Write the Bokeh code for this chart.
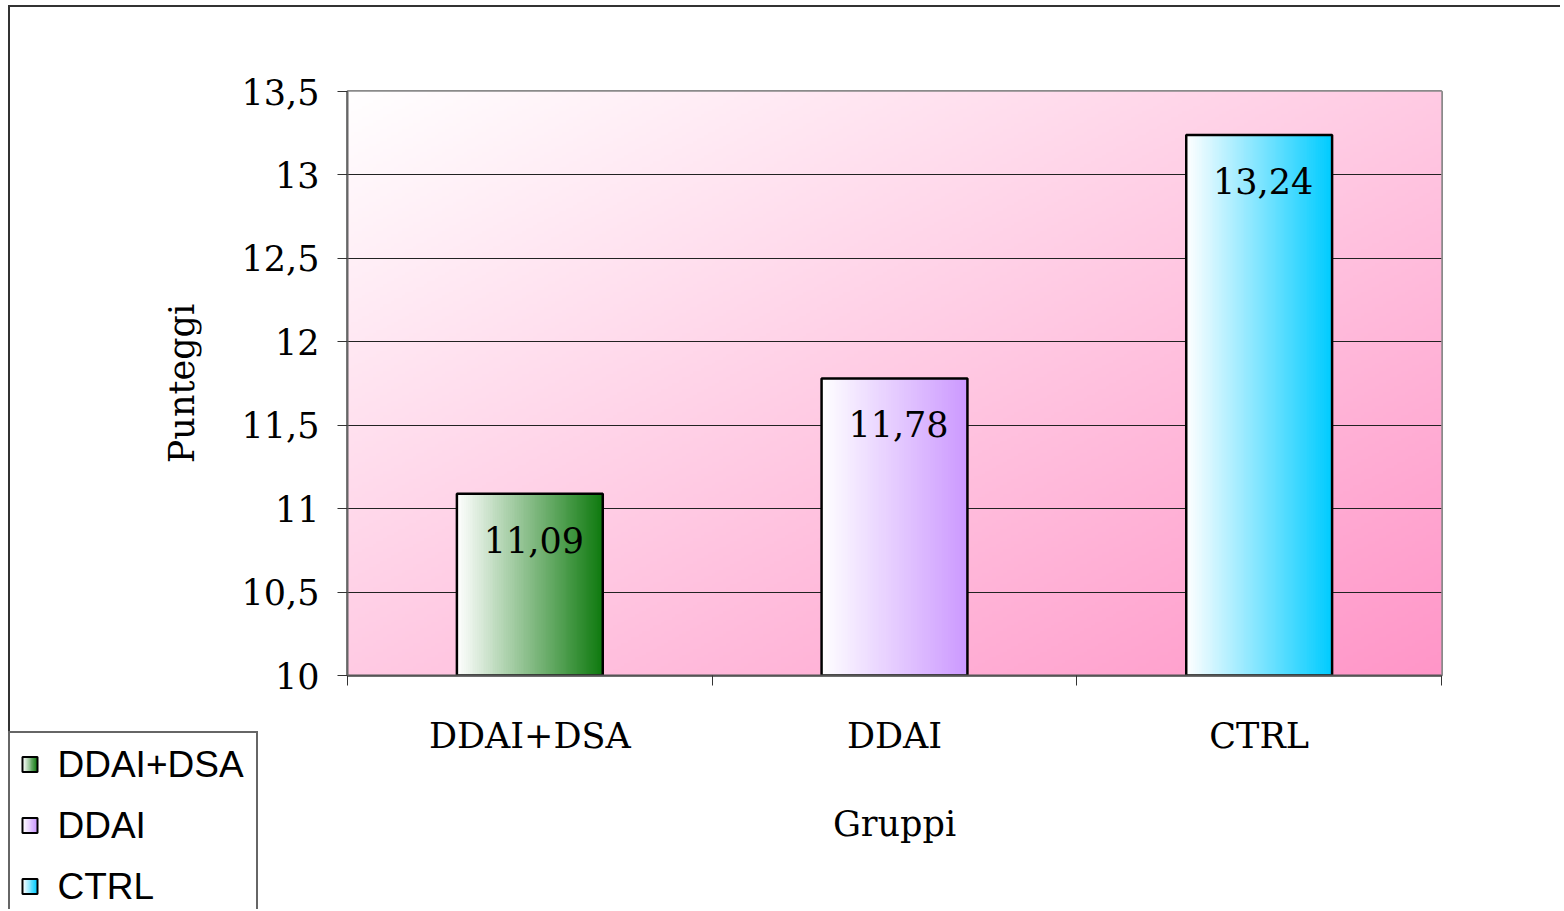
import numpy as np
from bokeh.plotting import figure
from bokeh.models import FixedTicker, Range1d
from bokeh.core.properties import value
from bokeh.embed import file_html
from bokeh.resources import INLINE

# ---- data ----
groups = ["DDAI+DSA", "DDAI", "CTRL"]
scores = [11.09, 11.78, 13.24]
score_labels = ["11,09", "11,78", "13,24"]
y_ticks = [10, 10.5, 11, 11.5, 12, 12.5, 13, 13.5]
y_tick_labels = ["10", "10,5", "11", "11,5", "12", "12,5", "13", "13,5"]

# ---- styles ----
bar_end_colors = [(14, 122, 14), (204, 153, 255), (0, 204, 255)]
SERIF = "DejaVu Serif"
SANS = "Liberation Sans"
W, H = 1552, 902

y0, y1 = y_ticks[0], y_ticks[-1]
ncat = len(groups)
xs = [i + 0.5 for i in range(ncat)]
bar_w = 0.4


def rgba_image(r, g, b):
    h, w = r.shape
    img = np.empty((h, w), dtype=np.uint32)
    v = img.view(dtype=np.uint8).reshape((h, w, 4))
    v[..., 0] = r
    v[..., 1] = g
    v[..., 2] = b
    v[..., 3] = 255
    return img


def hgrad(c, n=80):
    tt = np.linspace(0, 1, n)[None, :]
    return rgba_image((255 + (c[0] - 255) * tt).astype(np.uint8),
                      (255 + (c[1] - 255) * tt).astype(np.uint8),
                      (255 + (c[2] - 255) * tt).astype(np.uint8))


p = figure(width=W, height=H, x_range=Range1d(0, ncat), y_range=Range1d(y0, y1),
           output_backend="svg", toolbar_location=None,
           min_border_left=337, min_border_right=121, min_border_top=84, min_border_bottom=234,
           styles={"margin-left": "8px", "margin-top": "5px",
                   "border-left": "2px solid #333333", "border-top": "2px solid #333333"})
p.border_fill_color = "white"
p.background_fill_color = "white"
p.outline_line_color = "#8a8a8a"
p.outline_line_width = 3

# background diagonal gradient (white top-left -> pink bottom-right)
nx, ny = 300, 200
gx, gy = np.meshgrid(np.linspace(0, 1, nx), np.linspace(0, 1, ny))
t = (gx + (1 - gy)) / 2
pink = (255, 150, 200)
bg = rgba_image((255 + (pink[0] - 255) * t).astype(np.uint8),
                (255 + (pink[1] - 255) * t).astype(np.uint8),
                (255 + (pink[2] - 255) * t).astype(np.uint8))
p.image_rgba(image=[bg], x=0, y=y0, dw=ncat, dh=y1 - y0, level="image")

# bars with horizontal gradient
for i, (xc, s) in enumerate(zip(xs, scores)):
    p.image_rgba(image=[hgrad(bar_end_colors[i])], x=xc - bar_w / 2, y=y0, dw=bar_w, dh=s - y0)

p.vbar(x=xs, top=scores, bottom=y0, width=bar_w, fill_alpha=0,
       line_color="black", line_width=2.5)

p.text(x=xs, y=scores, text=score_labels, text_font=value(SERIF), text_font_size="35px",
       text_align="center", text_baseline="middle", x_offset=4, y_offset=46, text_color="black")

# axes
p.yaxis.ticker = FixedTicker(ticks=y_ticks)
p.yaxis.major_label_overrides = dict(zip(y_ticks, y_tick_labels))
p.yaxis.minor_tick_line_color = None
p.yaxis.major_tick_out = 10
p.yaxis.major_tick_in = 0
p.yaxis.major_tick_line_color = "#333333"
p.yaxis.axis_line_color = "#666666"
p.yaxis.axis_line_width = 2
p.yaxis.major_label_text_font = SERIF
p.yaxis.major_label_text_font_size = "35px"
p.yaxis.major_label_text_color = "black"
p.yaxis.major_label_standoff = 18
p.yaxis.axis_label = "Punteggi"
p.yaxis.axis_label_text_font = SERIF
p.yaxis.axis_label_text_font_size = "35px"
p.yaxis.axis_label_text_font_style = "normal"
p.yaxis.axis_label_text_color = "black"
p.yaxis.axis_label_standoff = 37

p.xaxis.ticker = FixedTicker(ticks=xs, minor_ticks=list(range(ncat + 1)))
p.xaxis.major_label_overrides = dict(zip(xs, groups))
p.xaxis.major_tick_line_color = None
p.xaxis.minor_tick_out = 10
p.xaxis.minor_tick_in = 0
p.xaxis.minor_tick_line_color = "#333333"
p.xaxis.axis_line_color = "#555555"
p.xaxis.axis_line_width = 2
p.xaxis.major_label_text_font = SERIF
p.xaxis.major_label_text_font_size = "35px"
p.xaxis.major_label_text_color = "black"
p.xaxis.major_label_standoff = 30
p.xaxis.axis_label = "Gruppi"
p.xaxis.axis_label_text_font = SERIF
p.xaxis.axis_label_text_font_size = "35px"
p.xaxis.axis_label_text_font_style = "normal"
p.xaxis.axis_label_text_color = "black"
p.xaxis.axis_label_standoff = 45

p.ygrid.ticker = FixedTicker(ticks=y_ticks)
p.ygrid.grid_line_color = "#222222"
p.ygrid.grid_line_width = 1
p.xgrid.visible = False

# legend: a small canvas in the bottom-left corner of the chart (pixel coordinates)
LW, LH = 250, 178
lf = figure(width=LW, height=LH, x_range=Range1d(0, LW), y_range=Range1d(0, LH),
            output_backend="svg", toolbar_location=None,
            x_axis_location=None, y_axis_location=None, min_border=0,
            styles={"position": "absolute", "left": "8px", "top": "731px",
                    "border-left": "2px solid #666666", "border-top": "2px solid #666666",
                    "border-right": "2px solid #666666"})
lf.outline_line_color = None
lf.grid.visible = False
lf.border_fill_color = "white"
lf.background_fill_color = "white"

sw = 15
sw_x = 12 + sw / 2
item_y = [LH - 31 - 61 * i for i in range(len(groups))]
for i, yc in enumerate(item_y):
    lf.image_rgba(image=[hgrad(bar_end_colors[i], 16)], x=sw_x - sw / 2, y=yc - sw / 2, dw=sw, dh=sw)
lf.rect(x=[sw_x] * len(groups), y=item_y, width=sw, height=sw, fill_alpha=0,
        line_color="black", line_width=2)
lf.text(x=[47] * len(groups), y=item_y, text=groups, text_font=value(SANS),
        text_font_size="37px", text_baseline="middle", text_align="left", text_color="black")

open("out.html", "w").write(file_html([p, lf], INLINE))
